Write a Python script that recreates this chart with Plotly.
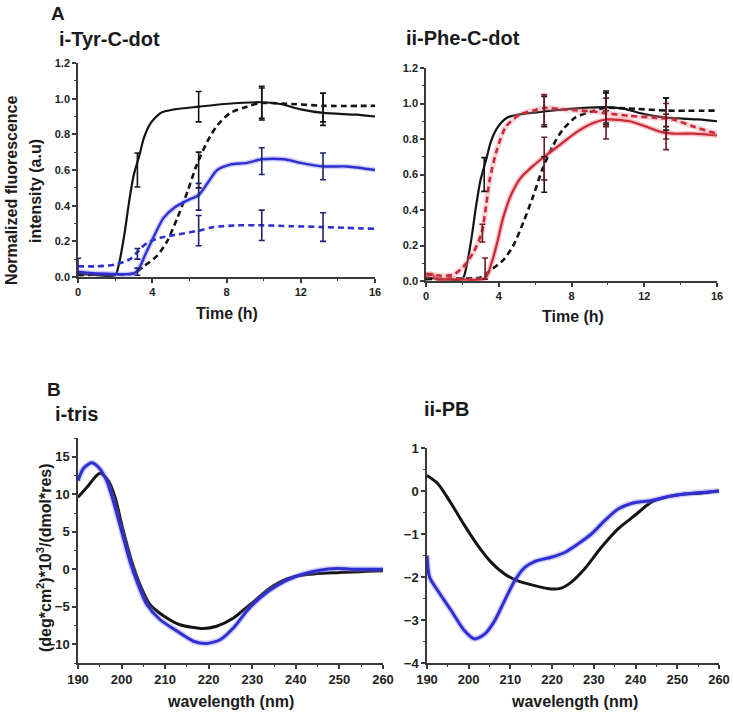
import plotly.graph_objects as go

# ---------------- DATA ----------------
# Panel A: time courses (h) and normalized fluorescence
bs_t = [0, 1, 2, 2.2, 2.5, 2.75, 3.0, 3.3, 3.55, 3.9, 4.45, 5.2, 6.5, 7.9, 9.8, 10.9, 12, 13.2, 15, 16]
bs_v = [0.02, 0.01, 0.01, 0.07, 0.24, 0.42, 0.57, 0.68, 0.78, 0.86, 0.92, 0.94, 0.955, 0.97, 0.98, 0.97, 0.94, 0.92, 0.91, 0.90]
bd_t = [0, 1.5, 3.0, 3.55, 4.27, 4.8, 5.35, 5.9, 6.4, 6.97, 7.5, 8.2, 9.1, 9.8, 11.5, 13.25, 16]
bd_v = [0.01, 0.015, 0.02, 0.06, 0.12, 0.2, 0.33, 0.48, 0.63, 0.76, 0.85, 0.92, 0.955, 0.975, 0.97, 0.96, 0.96]
ys_t = [0, 1, 3.0, 3.3, 3.6, 4.1, 4.6, 5.2, 5.9, 6.5, 7.0, 7.5, 8.2, 9.1, 9.9, 11.1, 12, 13.2, 14.5, 16]
ys_v = [0.03, 0.02, 0.02, 0.05, 0.12, 0.23, 0.33, 0.39, 0.43, 0.46, 0.53, 0.60, 0.63, 0.64, 0.66, 0.66, 0.64, 0.62, 0.62, 0.60]
yd_t = [0, 1, 2, 2.8, 3.2, 3.7, 4.45, 5.2, 6.5, 7.3, 8.8, 9.9, 11.5, 13.2, 16]
yd_v = [0.06, 0.06, 0.07, 0.10, 0.14, 0.19, 0.22, 0.235, 0.26, 0.28, 0.29, 0.29, 0.285, 0.28, 0.27]
rs_t = [0, 0.3, 0.6, 1.5, 3.25, 3.6, 3.9, 4.25, 4.7, 5.2, 5.9, 6.5, 7.4, 8.3, 9.2, 9.9, 11.2, 12.1, 12.9, 13.6, 14.7, 16]
rs_v = [0.02, 0.04, 0.01, 0.01, 0.015, 0.10, 0.21, 0.36, 0.49, 0.58, 0.65, 0.70, 0.77, 0.84, 0.89, 0.91, 0.90, 0.87, 0.84, 0.83, 0.83, 0.82]
rd_t = [0, 0.8, 1.5, 2.05, 2.6, 3.06, 3.3, 3.5, 3.9, 4.4, 5.2, 5.9, 6.5, 7.7, 9.2, 9.9, 11.2, 12.5, 13.6, 14.7, 16]
rd_v = [0.04, 0.03, 0.035, 0.08, 0.16, 0.27, 0.42, 0.57, 0.74, 0.87, 0.94, 0.96, 0.975, 0.965, 0.955, 0.945, 0.93, 0.92, 0.91, 0.87, 0.83]

# error bars (time, value, +/- error)
bs_et, bs_ev, bs_ee = [3.2, 6.5, 9.9, 13.2], [0.60, 0.955, 0.98, 0.94], [0.095, 0.085, 0.09, 0.09]
bd_et, bd_ev, bd_ee = [6.5, 9.9, 13.2], [0.60, 0.97, 0.95], [0.10, 0.09, 0.08]
ys_et, ys_ev, ys_ee = [3.2, 6.5, 9.9, 13.2], [0.03, 0.45, 0.65, 0.62], [0.02, 0.075, 0.075, 0.075]
yd_et, yd_ev, yd_ee = [0, 3.2, 6.5, 9.9, 13.2], [0.06, 0.13, 0.26, 0.29, 0.28], [0.045, 0.03, 0.085, 0.085, 0.08]
rs_et, rs_ev, rs_ee = [3.25, 6.5, 9.9, 13.2], [0.07, 0.69, 0.88, 0.84], [0.06, 0.12, 0.08, 0.10]
rd_et, rd_ev, rd_ee = [3.1, 6.5, 9.9, 13.2], [0.27, 0.965, 0.95, 0.90], [0.05, 0.085, 0.08, 0.10]

# Panel B: CD spectra
tris_k_w = [190, 192, 195, 197, 198.5, 200.4, 202.3, 204.2, 206.5, 209.6, 213.4, 218.8, 221.8, 225.7, 229.5, 234.1, 237.9, 241.7, 249.4, 260]
tris_k_v = [9.6, 10.9, 12.8, 11.8, 9.6, 5.1, 1.1, -2.0, -4.7, -6.2, -7.4, -7.9, -7.6, -6.5, -4.7, -2.5, -1.3, -0.76, -0.45, -0.2]
tris_b_w = [190, 191.2, 193.1, 194.7, 196.6, 198.1, 200, 201.9, 203.5, 205.8, 208.8, 212.6, 216.5, 219.5, 222.6, 225.7, 228.7, 231.8, 235.6, 240.2, 245.5, 249.4, 254, 260]
tris_b_v = [11.8, 13.4, 14.2, 13.6, 11.8, 9.1, 5.1, 1.1, -1.6, -4.7, -6.7, -8.2, -9.6, -9.9, -9.4, -7.8, -5.6, -3.8, -2.2, -0.9, -0.13, 0.1, 0.0, 0.0]
pb_k_w = [190, 192.6, 195.8, 199, 202.2, 205.4, 208.6, 211.8, 215.8, 219.8, 222.2, 224.6, 227.8, 231.8, 235.8, 239.8, 243.8, 247.8, 251.8, 255.8, 260]
pb_k_v = [0.36, 0.17, -0.29, -0.80, -1.27, -1.66, -1.93, -2.09, -2.20, -2.28, -2.26, -2.12, -1.81, -1.31, -0.88, -0.57, -0.26, -0.13, -0.07, -0.05, 0.0]
pb_b_w = [190, 190.6, 192.6, 195.8, 199, 201.4, 203.8, 206.2, 208.6, 211, 213.4, 215.8, 219.8, 223, 226.2, 229.4, 232.6, 235.8, 239, 243.8, 247.8, 251.8, 260]
pb_b_v = [-1.50, -2.0, -2.32, -2.78, -3.25, -3.44, -3.33, -3.02, -2.55, -2.09, -1.78, -1.64, -1.54, -1.43, -1.23, -1.00, -0.69, -0.42, -0.29, -0.22, -0.13, -0.07, 0.0]

time_ticks = [0, 4, 8, 12, 16]
wl_ticks = [190, 200, 210, 220, 230, 240, 250, 260]

# ---------------- STYLE ----------------
W, H = 733, 715
FONT = "Liberation Sans, Arial, sans-serif"
BLACK = "#141414"
BLUE = "#2f2fd4"
RED = "#c92a35"
AX = "#3a3a3a"

fig = go.Figure()


def line(x, y, xa, ya, color, width=2.2, dash="solid", halo=None):
    if halo:
        fig.add_trace(go.Scatter(x=x, y=y, xaxis=xa, yaxis=ya, mode="lines",
                                 line=dict(color=halo, width=width + 3, shape="spline", smoothing=0.7),
                                 hoverinfo="skip", showlegend=False))
    fig.add_trace(go.Scatter(x=x, y=y, xaxis=xa, yaxis=ya, mode="lines",
                             line=dict(color=color, width=width, dash=dash, shape="spline", smoothing=0.7),
                             showlegend=False))


def errs(x, y, e, xa, ya, color):
    fig.add_trace(go.Scatter(x=x, y=y, xaxis=xa, yaxis=ya, mode="markers",
                             marker=dict(size=1, color="rgba(0,0,0,0)"),
                             error_y=dict(type="data", array=e, visible=True, color=color,
                                          thickness=1.6, width=3),
                             showlegend=False))


DASH = "6px,4px"
# Top-left: Tyr-C-dot
line(bs_t, bs_v, "x", "y", BLACK, 2.2)
line(bd_t, bd_v, "x", "y", BLACK, 2.6, DASH)
line(ys_t, ys_v, "x", "y", BLUE, 2.4, halo="rgba(120,120,235,0.35)")
line(yd_t, yd_v, "x", "y", BLUE, 2.6, DASH)
errs(bs_et, bs_ev, bs_ee, "x", "y", BLACK)
errs(bd_et, bd_ev, bd_ee, "x", "y", BLACK)
errs(ys_et, ys_ev, ys_ee, "x", "y", "#1c2470")
errs(yd_et, yd_ev, yd_ee, "x", "y", "#1c2470")

# Top-right: Phe-C-dot
line(bs_t, bs_v, "x2", "y2", BLACK, 2.2)
line(bd_t, bd_v, "x2", "y2", BLACK, 2.6, DASH)
line(rs_t, rs_v, "x2", "y2", RED, 2.2, halo="rgba(240,120,130,0.45)")
line(rd_t, rd_v, "x2", "y2", RED, 2.6, DASH, halo="rgba(240,140,150,0.35)")
errs(bs_et, bs_ev, bs_ee, "x2", "y2", BLACK)
errs(bd_et, bd_ev, bd_ee, "x2", "y2", BLACK)
errs(rs_et, rs_ev, rs_ee, "x2", "y2", "#6a1c22")
errs(rd_et, rd_ev, rd_ee, "x2", "y2", "#6a1c22")

# Bottom-left: tris
line(tris_k_w, tris_k_v, "x3", "y3", BLACK, 3.0)
line(tris_b_w, tris_b_v, "x3", "y3", BLUE, 3.0, halo="rgba(120,120,235,0.35)")
# Bottom-right: PB
line(pb_k_w, pb_k_v, "x4", "y4", BLACK, 3.0)
line(pb_b_w, pb_b_v, "x4", "y4", BLUE, 3.0, halo="rgba(120,120,235,0.35)")


def px_dom_x(a, b):
    return [a / W, b / W]


def px_dom_y(top, bottom):
    return [1 - bottom / H, 1 - top / H]


def axis(domain, rng, tickvals, minor_dtick, fsize, anchor, fmt=None):
    d = dict(domain=domain, range=rng, tickvals=tickvals, anchor=anchor, automargin=False,
             showline=True, linecolor=AX, linewidth=1.5, showgrid=False, zeroline=False,
             ticks="outside", ticklen=4, tickwidth=1.5, tickcolor=AX,
             minor=dict(ticks="outside", ticklen=2.5, tickwidth=1, tickcolor=AX, dtick=minor_dtick,
                        showgrid=False),
             tickfont=dict(family=FONT, size=fsize, color="#222", weight="bold"),
             fixedrange=True)
    if fmt:
        d["tickformat"] = fmt
    return d


yA = [0, 0.2, 0.4, 0.6, 0.8, 1.0, 1.2]
fig.update_layout(
    width=W, height=H, margin=dict(l=0, r=0, t=0, b=0, pad=0), autosize=False,
    paper_bgcolor="white", plot_bgcolor="white", showlegend=False,
    xaxis=axis(px_dom_x(78, 375), [0, 16], time_ticks, 2, 11, "y"),
    yaxis=axis(px_dom_y(63, 277), [0, 1.2], yA, 0.1, 11, "x", ".1f"),
    xaxis2=axis(px_dom_x(426, 717), [0, 16], time_ticks, 2, 11, "y2"),
    yaxis2=axis(px_dom_y(68, 281), [0, 1.2], yA, 0.1, 11, "x2", ".1f"),
    xaxis3=axis(px_dom_x(78, 383), [190, 260], wl_ticks, 5, 13, "y3"),
    yaxis3=axis(px_dom_y(438, 663), [-12.5, 17.5], [-10, -5, 0, 5, 10, 15], 2.5, 13, "x3"),
    xaxis4=axis(px_dom_x(427, 719), [190, 260], wl_ticks, 5, 13, "y4"),
    yaxis4=axis(px_dom_y(448, 663), [-4, 1], [-4, -3, -2, -1, 0, 1], 0.5, 13, "x4"),
)


def label(text, x, y, size, angle=0):
    fig.add_annotation(text=text, x=x / W, y=1 - y / H, xref="paper", yref="paper",
                       xanchor="center", yanchor="middle", showarrow=False, textangle=angle,
                       font=dict(family=FONT, size=size, color="#1a1a1a", weight="bold"))


label("A", 58, 13, 19)
label("i-Tyr-C-dot", 109, 39, 20)
label("ii-Phe-C-dot", 463, 38, 20)
label("B", 54, 390, 19)
label("i-tris", 76, 414, 20)
label("ii-PB", 447, 409, 20)
label("Time (h)", 227, 313, 16)
label("Time (h)", 573, 316, 16)
label("wavelength (nm)", 230, 701, 16)
label("wavelength (nm)", 574, 701, 16)
label("Normalized fluorescence", 11, 190, 16, -90)
label("intensity (a.u)", 35, 191, 16, -90)
label("(deg*cm<sup>2</sup>)*10<sup>3</sup>/(dmol*res)", 44, 558, 16, -90)

fig.write_html("out.html", config={"responsive": False, "displayModeBar": False},
               post_script="document.body.style.margin='0';document.body.style.overflow='hidden';")
